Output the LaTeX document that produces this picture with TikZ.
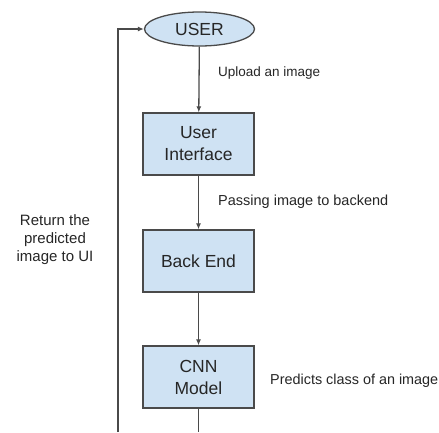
\documentclass[tikz,border=0pt]{standalone}
\usepackage{fontspec}
\setmainfont{Liberation Sans}
\usetikzlibrary{shapes.geometric,arrows.meta}
\definecolor{boxfill}{HTML}{CFE2F3}
\definecolor{boxline}{HTML}{4A4A4A}
\definecolor{txt}{HTML}{262626}
\begin{document}
\begin{tikzpicture}[x=1pt,y=-1pt,
  proc/.style={draw=boxline,line width=1.3pt,fill=boxfill,minimum width=111pt,minimum height=62pt,inner sep=0pt,align=center,text=txt,font=\fontsize{17.5}{22}\selectfont},
  term/.style={ellipse,draw=boxline,line width=1.3pt,fill=boxfill,minimum width=110pt,minimum height=34pt,inner sep=0pt,text=txt,font=\fontsize{17.5}{22}\selectfont},
  conn/.style={draw=boxline,line width=1.3pt,-{Latex[length=6pt,width=5pt]}},
  plain/.style={draw=boxline,line width=1.3pt},
  lbl/.style={text=txt,font=\fontsize{13.5}{17.5}\selectfont,inner sep=0pt}]
\useasboundingbox (0,0) rectangle (439,432);
\fill[white] (0,0) rectangle (439,432);
\node[term] (user) at (199.5,29) {USER};
\node[proc] (ui) at (198.5,144) {User\\Interface};
\node[proc] (be) at (198.5,261) {Back End};
\node[proc] (cnn) at (198.5,377) {CNN\\Model};
\coordinate (bot) at (198.5,432);
\coordinate (lb) at (118,432);
\coordinate (lt) at (118,29);
\draw[conn] (user) -- (ui);
\draw[conn] (ui) -- (be);
\draw[conn] (be) -- (cnn);
\draw[plain] (cnn) -- (bot);
\draw[conn] (lb) -- (lt) -- (user.west);
\node[lbl,anchor=west] (l1) at (218,73) {Upload an image};
\node[lbl,anchor=west,font=\fontsize{14.5}{17}\selectfont] (l2) at (218,202) {Passing image to backend};
\node[lbl,align=center,font=\fontsize{15}{18}\selectfont] (l3) at (55,240) {Return the\\predicted\\image to UI};
\node[lbl,anchor=west,font=\fontsize{14.4}{17}\selectfont] (l4) at (270,381) {Predicts class of an image};
\end{tikzpicture}
\end{document}
